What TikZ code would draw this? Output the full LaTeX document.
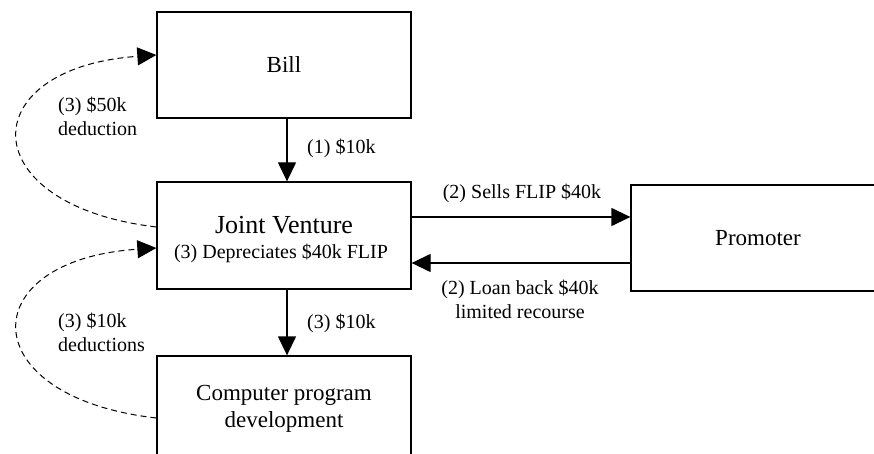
\documentclass[tikz,border=0pt]{standalone}
\usepackage{fontspec}
\setmainfont{Liberation Serif}
\usetikzlibrary{arrows.meta}
\begin{document}
\begin{tikzpicture}[x=1pt,y=-1pt,
  box/.style={draw,line width=1.3pt,minimum width=254pt,minimum height=106pt,inner sep=0pt,align=center,font=\fontsize{23}{27}\selectfont},
  lbl/.style={font=\fontsize{20}{24}\selectfont,inner sep=0pt},
  arr/.style={line width=1.3pt,-{Triangle[length=19pt,width=18pt]}},
  dasharr/.style={line width=1pt,dash pattern=on 6pt off 4pt,-{Triangle[length=19pt,width=18pt]}}]
\clip (0,0) rectangle (874,454);
\useasboundingbox (0,0) rectangle (874,454);
\node[box] (bill) at (284,65) {Bill};
\node[box,minimum height=107pt] (jv) at (284,235.5) {};
\node[font=\fontsize{26}{30}\selectfont,inner sep=0pt] (jvt) at (284,225) {Joint Venture};
\node[lbl] (jvd) at (281,253) {(3) Depreciates \$40k FLIP};
\node[box] (comp) at (284,409) {Computer program\\development};
\node[box] (prom) at (758,238) {Promoter};
\draw[arr] ([xshift=3pt]bill.south) -- ([xshift=3pt]jv.north);
\draw[arr] ([xshift=3pt]jv.south) -- ([xshift=3pt]comp.north);
\draw[arr] ([yshift=18.5pt]jv.east) -- ([yshift=21pt]prom.west);
\draw[arr] ([yshift=-25pt]prom.west) -- ([yshift=-27.5pt]jv.east);
\draw[dasharr] ([yshift=8.5pt]jv.west) .. controls (-28,205) and (-28,68) .. ([yshift=10pt]bill.west);
\draw[dasharr] ([yshift=-9pt]comp.west) .. controls (-28,397) and (-28,260) .. ([yshift=-12.5pt]jv.west);
\node[lbl,anchor=west] (l1) at (307,148) {(1) \$10k};
\node[lbl,anchor=west] (l3) at (307,323) {(3) \$10k};
\node[lbl] (l2a) at (522,193) {(2) Sells FLIP \$40k};
\node[lbl,align=center] (l2b) at (520,299) {(2) Loan back \$40k\\limited recourse};
\node[lbl,align=left,anchor=west] (l50) at (58,116) {(3) \$50k\\deduction};
\node[lbl,align=left,anchor=west] (l10) at (58,332) {(3) \$10k\\deductions};
\end{tikzpicture}
\end{document}
